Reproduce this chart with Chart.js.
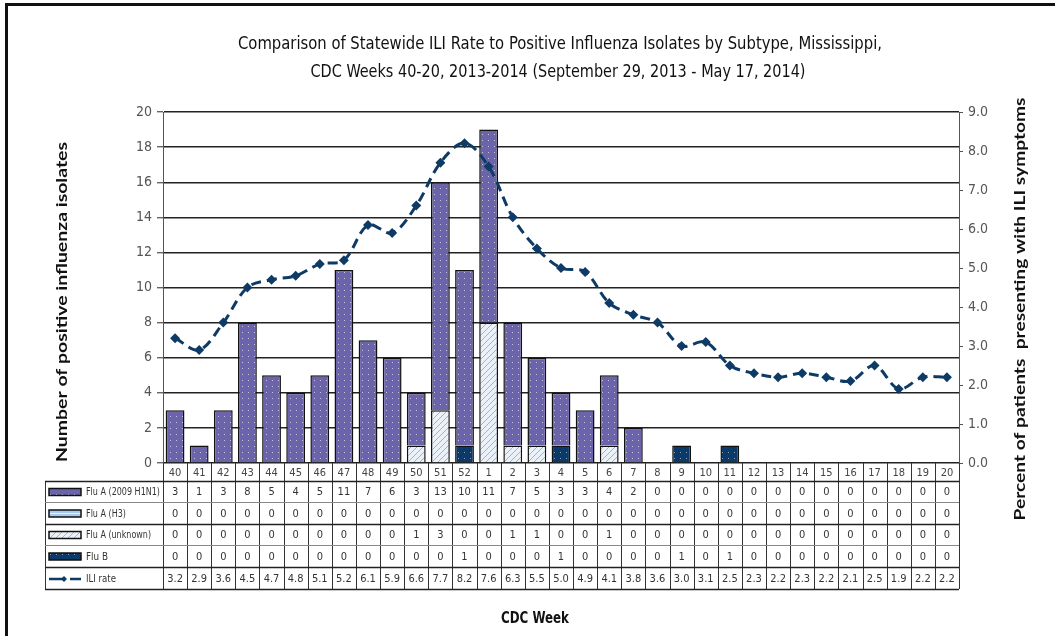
<!DOCTYPE html>
<html>
<head>
  <title>ILI Rate vs Influenza Isolates, Mississippi 2013-2014</title>
  <script src="https://cdn.jsdelivr.net/npm/chart.js"></script>
  <style>
    body {
      margin: 0;
      background-color: #FFFFFF;
    }
    canvas {
      display: block;
    }
  </style>
</head>
<body>
  <canvas id="fluChart" width="1055" height="636"></canvas>

  <script>
    // CDC weeks 40-52 (2013) then 1-20 (2014)
    const weeks = ['40', '41', '42', '43', '44', '45', '46', '47', '48', '49', '50', '51', '52',
      '1', '2', '3', '4', '5', '6', '7', '8', '9', '10', '11', '12', '13', '14', '15', '16', '17', '18', '19', '20'];

    const fluH1N1 = [3, 1, 3, 8, 5, 4, 5, 11, 7, 6, 3, 13, 10,
      11, 7, 5, 3, 3, 4, 2, 0, 0, 0, 0, 0, 0, 0, 0, 0, 0, 0, 0, 0];
    const fluH3 = [0, 0, 0, 0, 0, 0, 0, 0, 0, 0, 0, 0, 0,
      0, 0, 0, 0, 0, 0, 0, 0, 0, 0, 0, 0, 0, 0, 0, 0, 0, 0, 0, 0];
    // bar heights as drawn (week 1 shows 8 hatched in the bar)
    const fluUnknown = [0, 0, 0, 0, 0, 0, 0, 0, 0, 0, 1, 3, 0,
      8, 1, 1, 0, 0, 1, 0, 0, 0, 0, 0, 0, 0, 0, 0, 0, 0, 0, 0, 0];
    // values as printed in the data table
    const fluUnknownPrinted = [0, 0, 0, 0, 0, 0, 0, 0, 0, 0, 1, 3, 0,
      0, 1, 1, 0, 0, 1, 0, 0, 0, 0, 0, 0, 0, 0, 0, 0, 0, 0, 0, 0];
    const fluB = [0, 0, 0, 0, 0, 0, 0, 0, 0, 0, 0, 0, 1,
      0, 0, 0, 1, 0, 0, 0, 0, 1, 0, 1, 0, 0, 0, 0, 0, 0, 0, 0, 0];
    const iliRate = [3.2, 2.9, 3.6, 4.5, 4.7, 4.8, 5.1, 5.2, 6.1, 5.9, 6.6, 7.7, 8.2,
      7.6, 6.3, 5.5, 5.0, 4.9, 4.1, 3.8, 3.6, 3.0, 3.1, 2.5, 2.3, 2.2, 2.3, 2.2, 2.1, 2.5, 1.9, 2.2, 2.2];

    const titleLines = [
      'Comparison of Statewide ILI Rate to Positive Influenza Isolates by Subtype, Mississippi,',
      'CDC Weeks 40-20, 2013-2014 (September 29, 2013 - May 17, 2014)'
    ];

    const narrow = '"Liberation Sans Narrow", "DejaVu Sans Condensed", "Liberation Sans", sans-serif';
    const lineColor = '#0d3b66';

    // fill patterns for the bars
    const makePattern = (size, draw) => {
      const c = document.createElement('canvas');
      c.width = size;
      c.height = size;
      const g = c.getContext('2d');
      draw(g);
      return g.createPattern(c, 'repeat');
    };

    const h1n1Fill = makePattern(6, (g) => {
      g.fillStyle = '#6c64aa';
      g.fillRect(0, 0, 6, 6);
      g.fillStyle = 'rgba(220, 220, 240, 0.8)';
      g.fillRect(2, 2, 1, 1);
    });
    const h3Fill = makePattern(4, (g) => {
      g.fillStyle = '#a9c9ee';
      g.fillRect(0, 0, 4, 4);
      g.fillStyle = '#e8f1fb';
      g.fillRect(0, 1, 4, 1);
    });
    const unknownFill = makePattern(6, (g) => {
      g.fillStyle = '#eaf1f9';
      g.fillRect(0, 0, 6, 6);
      g.strokeStyle = '#9db4cf';
      g.lineWidth = 1;
      g.beginPath();
      g.moveTo(0, 6);
      g.lineTo(6, 0);
      g.stroke();
    });
    const fluBFill = makePattern(6, (g) => {
      g.fillStyle = '#0c3a68';
      g.fillRect(0, 0, 6, 6);
      g.fillStyle = 'rgba(170, 190, 220, 0.8)';
      g.fillRect(2, 2, 1, 1);
    });

    const skipZero = (arr) => arr.map((v) => (v === 0 ? null : v));

    // text squeezed or stretched to a given width
    const fitText = (ctx, text, cx, cy, width, font, color, angle) => {
      ctx.save();
      ctx.font = font;
      const w = ctx.measureText(text).width;
      ctx.translate(cx, cy);
      if (angle) ctx.rotate(angle);
      ctx.scale(width / w, 1);
      ctx.textAlign = 'center';
      ctx.textBaseline = 'middle';
      ctx.fillStyle = color;
      ctx.fillText(text, 0, 0);
      ctx.restore();
    };

    const decorPlugin = {
      id: 'decor',
      beforeDraw: (chart) => {
        const ctx = chart.ctx;
        ctx.save();
        ctx.fillStyle = '#FFFFFF';
        ctx.fillRect(0, 0, chart.width, chart.height);
        ctx.restore();
      },
      afterDraw: (chart) => {
        const ctx = chart.ctx;
        const area = chart.chartArea;
        const n = weeks.length;
        const colW = (area.right - area.left) / n;

        // outer frame
        ctx.save();
        ctx.fillStyle = '#111';
        ctx.fillRect(5, 3, chart.width - 5, 3);
        ctx.fillRect(5, 3, 3, chart.height - 3);
        ctx.restore();

        // titles
        fitText(ctx, titleLines[0], 560, 45, 644, '17px ' + narrow, '#111');
        fitText(ctx, titleLines[1], 558, 73, 495, '17px ' + narrow, '#111');
        fitText(ctx, 'Number of positive influenza isolates', 62, 302, 320,
          'bold 15px Lato, "Noto Sans", sans-serif', '#111', -Math.PI / 2);
        fitText(ctx, 'Percent of patients  presenting with ILI symptoms', 1020, 309, 423,
          'bold 15px Lato, "Noto Sans", sans-serif', '#111', -Math.PI / 2);
        fitText(ctx, 'CDC Week', 535, 619, 68, 'bold 16px ' + narrow, '#111');

        // data table
        const rowEdges = [area.bottom, 481, 502, 524, 545, 567, 589];
        const legLeft = 45;
        const rows = [
          { label: 'Flu A (2009 H1N1)', values: fluH1N1, fill: h1n1Fill, w: 74 },
          { label: 'Flu A (H3)', values: fluH3, fill: h3Fill, w: 40 },
          { label: 'Flu A (unknown)', values: fluUnknownPrinted, fill: unknownFill, w: 65 },
          { label: 'Flu B', values: fluB, fill: fluBFill, w: 22 },
          { label: 'ILI rate', values: iliRate.map((v) => v.toFixed(1)), fill: null, w: 30 }
        ];

        ctx.save();
        ctx.strokeStyle = '#333';
        ctx.lineWidth = 1;
        // vertical separators
        for (let i = 0; i <= n; i++) {
          const x = Math.round(area.left + i * colW) + 0.5;
          ctx.beginPath();
          ctx.moveTo(x, rowEdges[0]);
          ctx.lineTo(x, rowEdges[6]);
          ctx.stroke();
        }
        ctx.beginPath();
        ctx.moveTo(legLeft + 0.5, rowEdges[1]);
        ctx.lineTo(legLeft + 0.5, rowEdges[6]);
        ctx.stroke();
        // horizontal separators
        for (let r = 1; r < rowEdges.length; r++) {
          ctx.lineWidth = (r === 1 || r === 3 || r === 5 || r === 6) ? 1.5 : 1;
          ctx.strokeStyle = (r === 2 || r === 4) ? '#888' : '#222';
          ctx.beginPath();
          ctx.moveTo(legLeft, rowEdges[r] + 0.5);
          ctx.lineTo(area.right, rowEdges[r] + 0.5);
          ctx.stroke();
        }

        ctx.textAlign = 'center';
        ctx.textBaseline = 'middle';
        ctx.fillStyle = '#444';
        ctx.font = '11px ' + narrow;
        // week row
        weeks.forEach((w, i) => {
          ctx.fillText(w, area.left + (i + 0.5) * colW, (rowEdges[0] + rowEdges[1]) / 2 + 1);
        });

        rows.forEach((row, r) => {
          const cy = (rowEdges[r + 1] + rowEdges[r + 2]) / 2 + 1;
          ctx.fillStyle = '#333';
          ctx.textAlign = 'center';
          ctx.font = '11px ' + narrow;
          row.values.forEach((v, i) => {
            ctx.fillText(String(v), area.left + (i + 0.5) * colW, cy);
          });

          // legend key
          if (row.fill) {
            ctx.fillStyle = row.fill;
            ctx.fillRect(49, cy - 4, 32, 7);
            ctx.strokeStyle = '#111';
            ctx.lineWidth = 1.5;
            ctx.strokeRect(49, cy - 4, 32, 7);
          } else {
            ctx.strokeStyle = lineColor;
            ctx.lineWidth = 2.5;
            ctx.beginPath();
            ctx.moveTo(49, cy);
            ctx.lineTo(63, cy);
            ctx.moveTo(70, cy);
            ctx.lineTo(81, cy);
            ctx.stroke();
            ctx.fillStyle = lineColor;
            ctx.beginPath();
            ctx.moveTo(64, cy - 3);
            ctx.lineTo(67, cy);
            ctx.lineTo(64, cy + 3);
            ctx.lineTo(61, cy);
            ctx.closePath();
            ctx.fill();
          }
          fitText(ctx, row.label, 86 + row.w / 2, cy, row.w, '10px ' + narrow, '#333');
        });
        ctx.restore();
      }
    };

    const barBase = {
      type: 'bar',
      yAxisID: 'y',
      stack: 'flu',
      borderColor: '#111',
      borderWidth: 1.5,
      categoryPercentage: 1,
      barPercentage: 0.78,
      order: 1
    };

    const ctx = document.getElementById('fluChart').getContext('2d');
    const chart = new Chart(ctx, {
      data: {
        labels: weeks,
        datasets: [
          {
            type: 'line',
            label: 'ILI rate',
            data: iliRate,
            yAxisID: 'y1',
            borderColor: lineColor,
            backgroundColor: lineColor,
            borderWidth: 3,
            borderDash: [10, 6],
            tension: 0.35,
            pointStyle: 'rectRot',
            pointRadius: 5,
            pointBorderWidth: 0,
            pointBackgroundColor: lineColor,
            fill: false,
            order: 0
          },
          { ...barBase, label: 'Flu B', data: skipZero(fluB), backgroundColor: fluBFill },
          { ...barBase, label: 'Flu A (unknown)', data: skipZero(fluUnknown), backgroundColor: unknownFill },
          { ...barBase, label: 'Flu A (H3)', data: skipZero(fluH3), backgroundColor: h3Fill },
          { ...barBase, label: 'Flu A (2009 H1N1)', data: skipZero(fluH1N1), backgroundColor: h1n1Fill }
        ]
      },
      options: {
        responsive: false,
        animation: false,
        layout: {
          padding: { top: 112, bottom: 173, left: 0, right: 0 }
        },
        scales: {
          x: {
            display: false,
            stacked: true
          },
          y: {
            position: 'left',
            stacked: true,
            min: 0,
            max: 20,
            ticks: {
              stepSize: 2,
              padding: 5,
              color: '#555',
              font: { family: narrow, size: 14 }
            },
            grid: {
              color: '#222',
              lineWidth: 1.4,
              tickColor: '#666',
              tickLength: 6
            },
            border: { display: true, color: '#555', width: 1 },
            afterFit: (scale) => { scale.width = 163; }
          },
          y1: {
            position: 'right',
            min: 0,
            max: 9,
            ticks: {
              stepSize: 1,
              padding: 5,
              color: '#555',
              font: { family: narrow, size: 14 },
              callback: (value) => Number(value).toFixed(1)
            },
            grid: {
              drawOnChartArea: false,
              tickColor: '#555',
              tickLength: 4
            },
            border: { display: true, color: '#555', width: 1 },
            afterFit: (scale) => { scale.width = 96; }
          }
        },
        plugins: {
          legend: { display: false },
          tooltip: { enabled: false }
        }
      },
      plugins: [decorPlugin]
    });
  </script>
</body>
</html>
